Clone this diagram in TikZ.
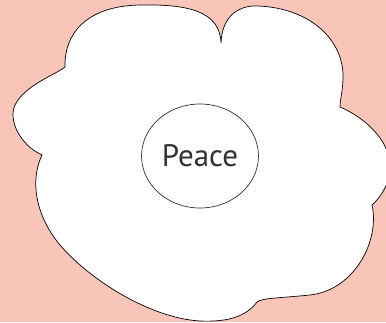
\documentclass[tikz,border=0pt]{standalone}
\usepackage{fontspec}
\setmainfont{PT Sans}
\usetikzlibrary{shapes.geometric}
\definecolor{peachbg}{RGB}{248,197,184}
\definecolor{textgray}{RGB}{50,50,50}

\begin{document}
\begin{tikzpicture}[
    x=1pt, y=-1pt,
    blob/.style={draw=black, fill=white, line width=0.7pt},
    centerbox/.style={ellipse, draw=black!80, line width=0.7pt,
        minimum width=117pt, minimum height=104pt, inner sep=0pt,
        font=\fontsize{31}{33}\selectfont, text=textgray}
]
    % Background
    \fill[peachbg] (0,0) rectangle (386,322);
    \useasboundingbox (0,0) rectangle (386,322);

    % Cloud shape
    \draw[blob] (65,67)
        .. controls (64,35) and (85,6) .. (140,5)
        .. controls (190,4) and (220,12) .. (221,43)
        .. controls (222,15) and (240,5) .. (258,6)
        .. controls (310,8) and (345,40) .. (343,80)
        .. controls (342,95) and (340,100) .. (340,107)
        .. controls (370,120) and (392,145) .. (390,170)
        .. controls (389,185) and (380,198) .. (372,205)
        .. controls (380,240) and (355,290) .. (310,295)
        .. controls (280,298) and (262,298) .. (257,302)
        .. controls (245,318) and (225,322) .. (200,321)
        .. controls (150,318) and (90,280) .. (60,245)
        .. controls (35,215) and (30,180) .. (42,155)
        .. controls (20,145) and (8,120) .. (15,105)
        .. controls (25,85) and (55,75) .. cycle;

    % Center
    \node[centerbox] (peace) at (200,156) {Peace};
\end{tikzpicture}
\end{document}
